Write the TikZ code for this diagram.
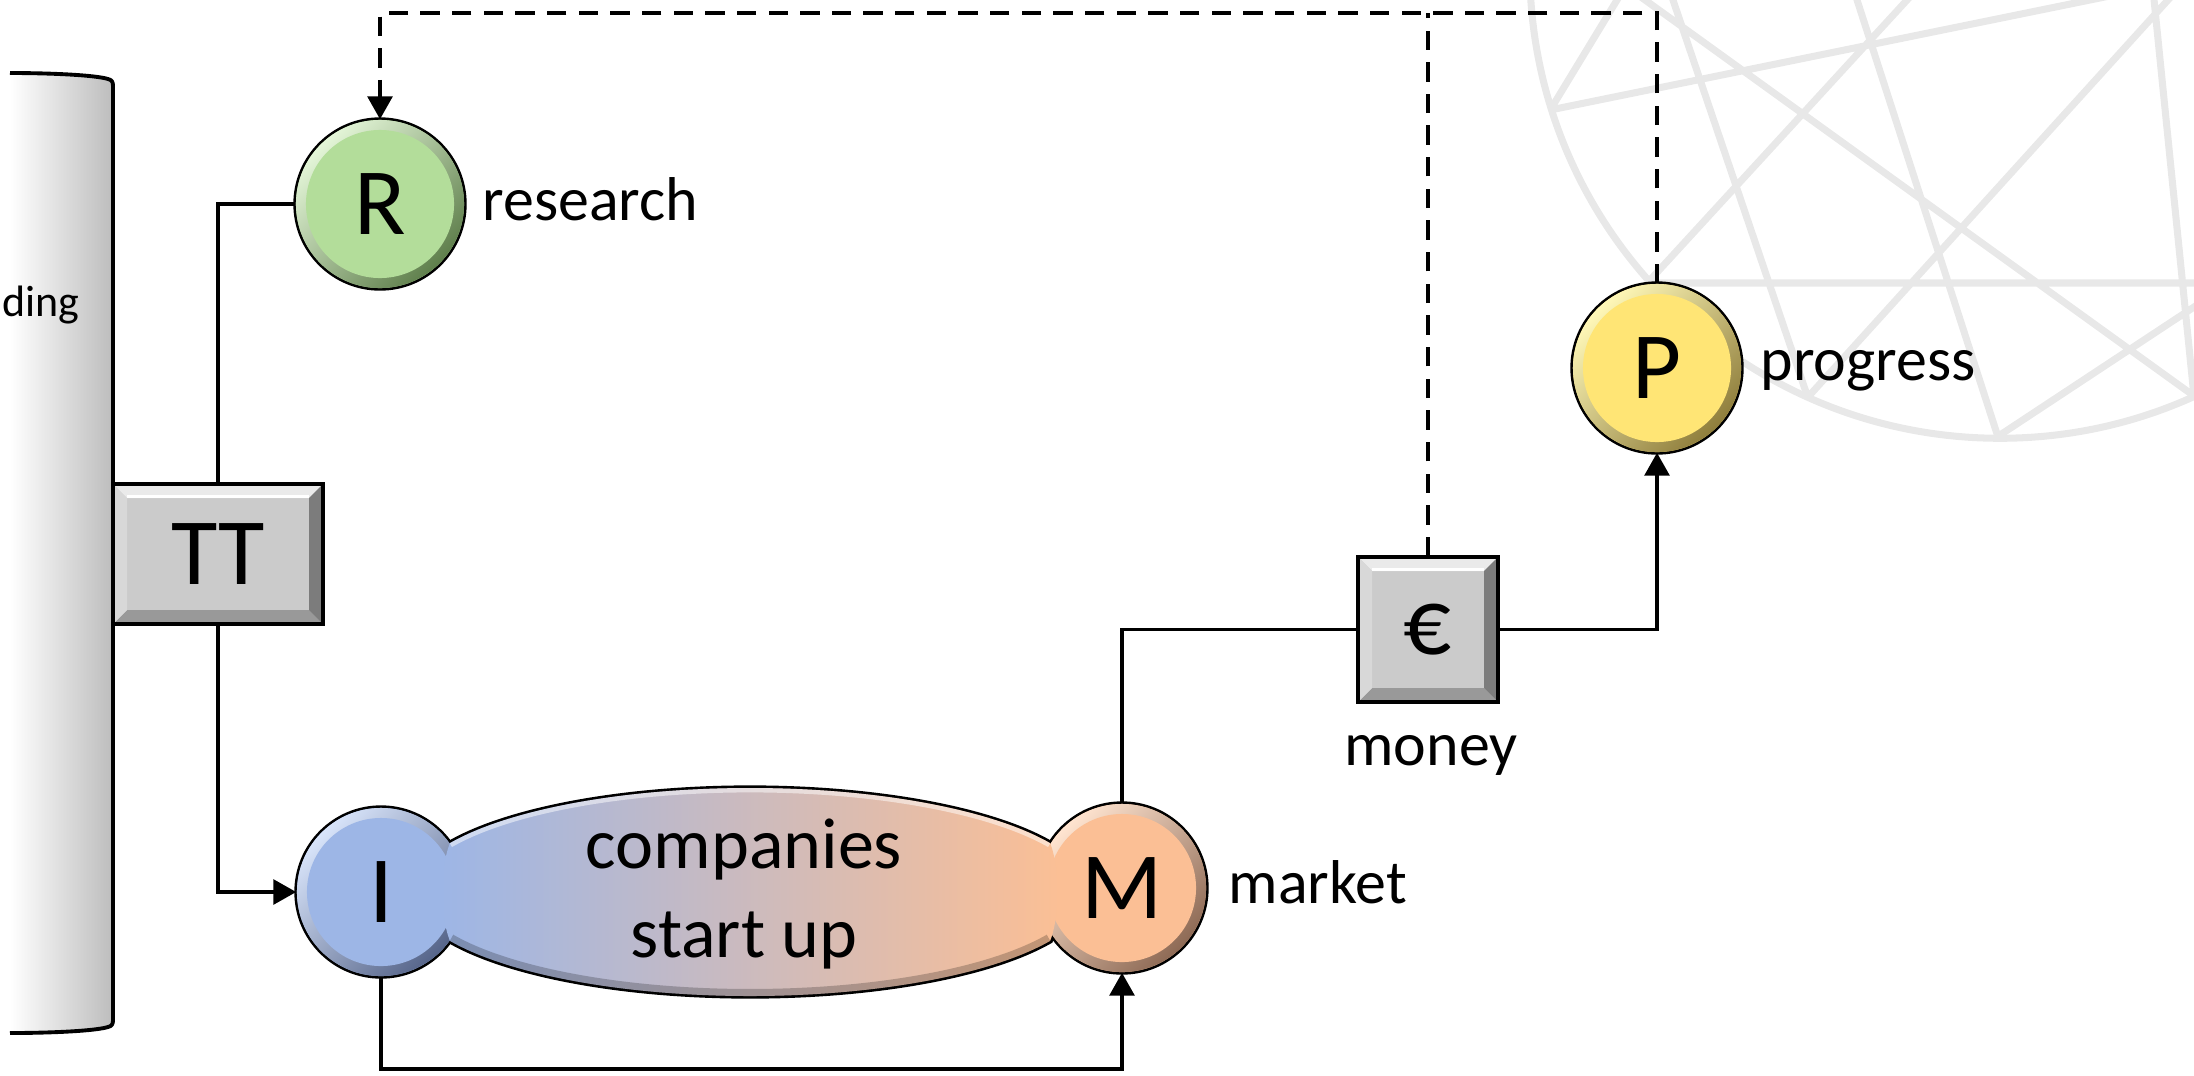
\documentclass[tikz,border=0pt]{standalone}
\usepackage{fontspec}
\setmainfont{Carlito}
\usetikzlibrary{arrows.meta}
\definecolor{gl}{HTML}{E8E8E8}
\definecolor{rbase}{HTML}{B3DD9A}\definecolor{rlight}{HTML}{E4F6D8}\definecolor{rdark}{HTML}{5F7F4C}
\definecolor{ibase}{HTML}{9DB6E6}\definecolor{ilight}{HTML}{D8E4FA}\definecolor{idark}{HTML}{56658A}
\definecolor{mbase}{HTML}{FBBF95}\definecolor{mlight}{HTML}{FFE4D0}\definecolor{mdark}{HTML}{8E6A55}
\definecolor{pbase}{HTML}{FFE575}\definecolor{plight}{HTML}{FFF8B8}\definecolor{pdark}{HTML}{8F7E3C}
\definecolor{lav}{HTML}{CBB8D4}
\definecolor{bxbase}{HTML}{CBCBCB}\definecolor{bxtop}{HTML}{EAEAEA}\definecolor{bxleft}{HTML}{D8D8D8}
\definecolor{bxright}{HTML}{7C7C7C}\definecolor{bxbot}{HTML}{999999}
\newcommand{\bigf}{\fontsize{27}{32}\selectfont}
\newcommand{\labf}{\fontsize{17.6}{21}\selectfont}
\newcommand{\compf}{\fontsize{20.5}{25.3}\selectfont}
\newcommand{\dingf}{\fontsize{12.5}{15}\selectfont}
\newcommand{\circout}[3]{\draw[line width=1.5pt] (#1,#2) circle[radius=#3*0.1mm];}
\newcommand{\bevcirc}[6]{%
  \fill[#4] (#1,#2) circle[radius=#3*0.1mm];
  \shade[top color=#5, bottom color=#6, shading angle=45] (#1,#2) circle[radius=#3*0.1mm];
  \fill[#4] (#1,#2) circle[radius=(#3-10)*0.1mm];}
\newcommand{\bevbox}[5]{%
  \fill[bxbase] (#1,#2) rectangle (#3,#4);
  \fill[bxtop] (#1,#2) -- (#3,#2) -- ({#3-#5},{#2+#5}) -- ({#1+#5},{#2+#5}) -- cycle;
  \fill[bxbot] (#1,#4) -- (#3,#4) -- ({#3-#5},{#4-#5}) -- ({#1+#5},{#4-#5}) -- cycle;
  \fill[bxleft] (#1,#2) -- ({#1+#5},{#2+#5}) -- ({#1+#5},{#4-#5}) -- (#1,#4) -- cycle;
  \fill[bxright] (#3,#2) -- ({#3-#5},{#2+#5}) -- ({#3-#5},{#4-#5}) -- (#3,#4) -- cycle;
  \draw[white, line width=0.8pt] ({#1+#5},{#2+#5-1.5}) -- ({#3-#5},{#2+#5-1.5});
  \draw[line width=0.95pt] (#1,#2) rectangle (#3,#4);}
\def\blobpath{(449.8,843.2) .. controls (508.9,809.2) and (624.2,788) .. (750,788)
  .. controls (875.8,788) and (991.1,809.2) .. (1050.2,843.2)
  .. controls (1060,869) and (1060,915) .. (1050.2,940.8)
  .. controls (991.1,974.8) and (875.8,996) .. (750,996)
  .. controls (624.2,996) and (508.9,974.8) .. (449.8,940.8)
  .. controls (440,915) and (440,869) .. cycle}
\begin{document}
\begin{tikzpicture}[x=0.01cm, y=-0.01cm,
  conn/.style={line width=1.1pt, black},
  arr/.style={-{Triangle[length=6.5pt,width=7pt]}},
  dsh/.style={dash pattern=on 5.5pt off 3.5pt},
  cnode/.style={circle, inner sep=0pt, minimum size=1.68cm, font=\bigf},
  bnode/.style={rectangle, inner sep=0pt, font=\bigf},
  lbl/.style={inner sep=0pt, font=\labf, anchor=base west}]
\useasboundingbox (0,0) rectangle (2194,1075);
% watermark globe
\begin{scope}
  \clip (2000,-32) circle[radius=47mm];
  \draw[gl, line width=2pt]
    (1500,283) -- (2300,283)
    (1400,140.6) -- (2300,-42.8)
    (1500,192.6) -- (1650,-54.3)
    (1600,334.5) -- (1950,-46.8)
    (1656,-50) -- (1842.6,500)
    (1600,-32.5) -- (2300,472.4)
    (1840.9,-50) -- (2018.3,500)
    (2213.3,-50) -- (1714.6,500)
    (2300,237) -- (1950,468)
    (2149,-50) -- (2204.4,500);
\end{scope}
\draw[gl, line width=2pt] (2000,-32) circle[radius=47mm];
% cylinder
\shade[left color=white, right color=black!26]
  (10,73) .. controls (50,73) and (95,75) .. (108,79) .. controls (112,80) and (113,82) .. (113,86)
  -- (113,1020) .. controls (113,1024) and (112,1026) .. (108,1027)
  .. controls (95,1031) and (50,1033) .. (10,1033) -- cycle;
\draw[line width=1.1pt]
  (10,73) .. controls (50,73) and (95,75) .. (108,79) .. controls (112,80) and (113,82) .. (113,86)
  -- (113,1020) .. controls (113,1024) and (112,1026) .. (108,1027)
  .. controls (95,1031) and (50,1033) .. (10,1033);
% outlines
\circout{380}{204}{84}
\circout{1657}{368}{84}
\circout{381}{892}{84}
\circout{1122}{888}{84}
\draw[line width=1.5pt] \blobpath;
% fills
\bevcirc{380}{204}{84}{rbase}{rlight}{rdark}
\bevcirc{1657}{368}{84}{pbase}{plight}{pdark}
\bevcirc{381}{892}{84}{ibase}{ilight}{idark}
\bevcirc{1122}{888}{84}{mbase}{mlight}{mdark}
\shade[left color=ibase, middle color=lav, right color=mbase] \blobpath;
\begin{scope}
  \clip \blobpath;
  \draw[white, opacity=.5, line width=2.5pt] (449.8,843.2) .. controls (508.9,809.2) and (624.2,788) .. (750,788)
    .. controls (875.8,788) and (991.1,809.2) .. (1050.2,843.2);
  \draw[black, opacity=.22, line width=4pt] (1050.2,940.8) .. controls (991.1,974.8) and (875.8,996) .. (750,996)
    .. controls (624.2,996) and (508.9,974.8) .. (449.8,940.8);
\end{scope}
\bevbox{113}{484}{323}{624}{14}
\bevbox{1358}{557}{1498}{702}{14}
% nodes
\node[cnode] (R) at (380,204) {R};
\node[cnode] (P) at (1657,368) {P};
\node[cnode] (I) at (381,892) {I};
\node[cnode] (M) at (1122,888) {M};
\node[bnode, minimum width=2.1cm, minimum height=1.4cm] (TT) at (218,554) {TT};
\node[bnode, minimum width=1.4cm, minimum height=1.45cm] (E) at (1428,629.5) {€};
\node[inner sep=0pt, font=\compf, align=center] (C) at (744,894) {companies\\start up};
\node[lbl] (Rl) at (482,220) {research};
\node[lbl] (Pl) at (1760,380) {progress};
\node[lbl] (Ml) at (1228,903) {market};
\node[inner sep=0pt, font=\labf, anchor=base] (El) at (1431,765) {money};
\node[inner sep=0pt, font=\dingf, anchor=base west] (F) at (2,316) {ding};
% connectors
\coordinate (bot) at (750,1069);
\coordinate (top) at (1000,13);
\draw[conn] (TT.north) |- (R.west);
\draw[conn, arr] (TT.south) |- (I.west);
\draw[conn, arr] (I.south) |- (bot) -| (M.south);
\draw[conn] (M.north) |- (E.west);
\draw[conn, arr] (E.east) -| (P.south);
\draw[conn, dsh, arr] (P.north) |- (top) -| (R.north);
\draw[conn, dsh] (E.north) -- (E.north |- top);
\end{tikzpicture}
\end{document}
